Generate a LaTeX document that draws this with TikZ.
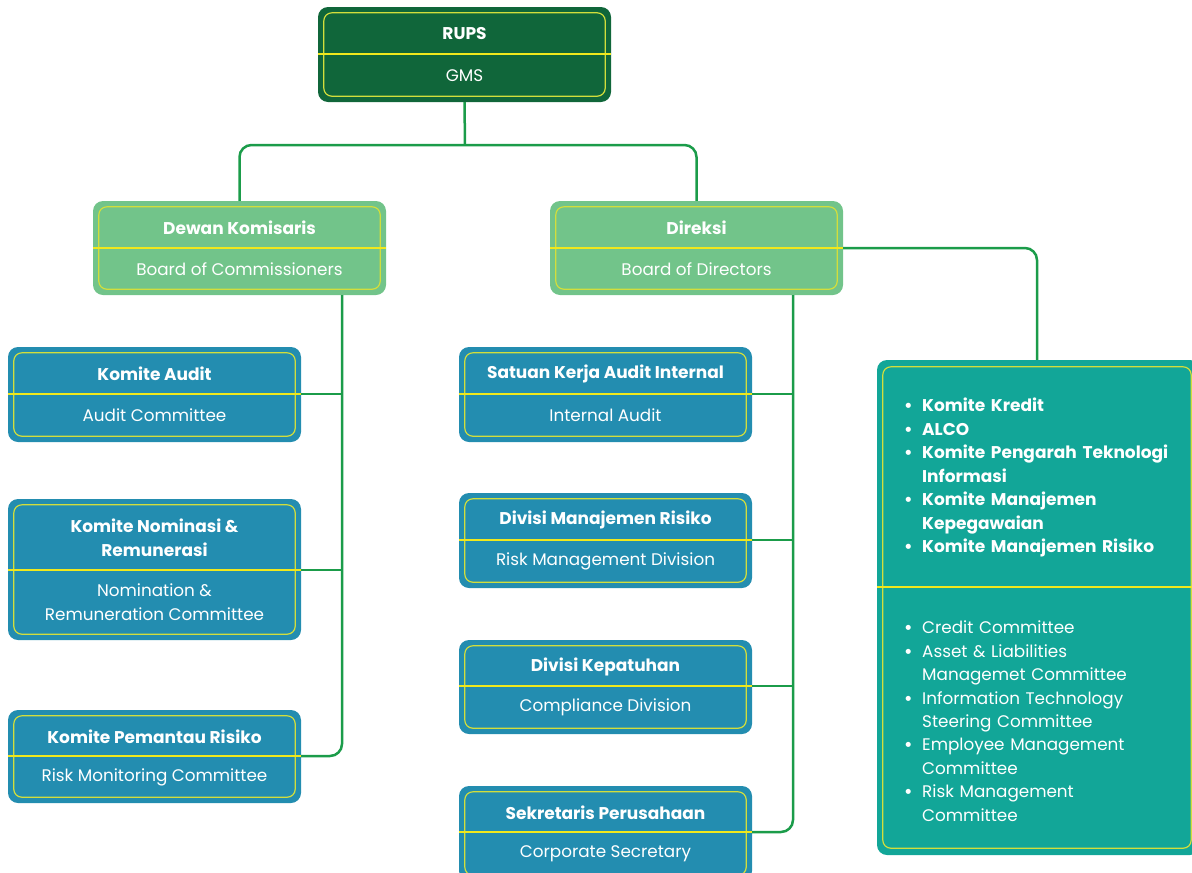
\documentclass[tikz,border=0pt]{standalone}
\usepackage{fontspec}
\setmainfont{Poppins}
\definecolor{dkg}{HTML}{10663A}
\definecolor{lgr}{HTML}{72C48A}
\definecolor{blu}{HTML}{238DB0}
\definecolor{tea}{HTML}{12A698}
\definecolor{lineg}{HTML}{1B9C4A}
\definecolor{divy}{HTML}{F0E81C}
\definecolor{bord}{HTML}{D2DE3C}
\tikzset{
  outerbox/.style={rectangle, rounded corners=10pt, minimum width=293pt, inner sep=0pt},
  innerline/.style={draw=bord, line width=1.2pt, rounded corners=8pt},
  divline/.style={draw=divy, line width=1.5pt},
  toptxt/.style={text=white, font=\bfseries\fontsize{17}{24}\selectfont, align=center, inner sep=0pt},
  bottxt/.style={text=white, font=\fontsize{16.8}{24}\selectfont, align=center, inner sep=0pt},
  conn/.style={draw=lineg, line width=2.5pt, rounded corners=12pt},
  listtxt/.style={text=white, text width=285pt, align=left, inner sep=0pt, anchor=north west}
}
\newcommand\orgbox[8]{%
  \node[outerbox, fill=#6, minimum height={#4-#3}] (#1) at ({#2+146.5},{(#3+#4)/2}) {};
  \coordinate (#1d) at (0,#5);
  \draw[innerline] ([shift={(6,6)}]#1.north west) rectangle ([shift={(-6,-6)}]#1.south east);
  \draw[divline] (#1.west |- #1d) -- (#1.east |- #1d);
  \node[toptxt] (#1t) at ({#2+146.5},{(#3+7+#5)/2}) {#7};
  \node[bottxt] (#1b) at ({#2+146.5},{(#5+#4-5)/2}) {#8};
}
\newcommand\itm[1]{\noindent\hangindent=18pt\hangafter=1\makebox[18pt][l]{\bfseries\textbullet}#1\par}
\begin{document}
\begin{tikzpicture}[x=1pt,y=-1pt]
\useasboundingbox (0,0) rectangle (1192,873);
\orgbox{rups}{318}{7}{102}{54}{dkg}{RUPS}{GMS}
\orgbox{dewan}{93}{201}{295}{248}{lgr}{Dewan Komisaris}{Board of Commissioners}
\orgbox{direksi}{550}{201}{295}{248}{lgr}{Direksi}{Board of Directors}
\orgbox{audit}{8}{347}{442}{394}{blu}{Komite Audit}{Audit Committee}
\orgbox{nominasi}{8}{499}{640}{570}{blu}{Komite Nominasi \&\\Remunerasi}{Nomination \&\\Remuneration Committee}
\orgbox{pemantau}{8}{710}{803}{756}{blu}{Komite Pemantau Risiko}{Risk Monitoring Committee}
\orgbox{ska}{459}{347}{442}{394}{blu}{Satuan Kerja Audit Internal}{Internal Audit}
\orgbox{dmr}{459}{493}{588}{540}{blu}{Divisi Manajemen Risiko}{Risk Management Division}
\orgbox{dk}{459}{640}{734}{686}{blu}{Divisi Kepatuhan}{Compliance Division}
\orgbox{sp}{459}{786}{881}{832}{blu}{Sekretaris Perusahaan}{Corporate Secretary}
% committee box
\node[rectangle, rounded corners=10pt, fill=tea, minimum width=323pt, minimum height=495pt, inner sep=0pt] (kom) at (1038.5,607.5) {};
\coordinate (komd) at (0,587);
\draw[innerline] ([shift={(6,7)}]kom.north west) rectangle ([shift={(-9,-7)}]kom.south east);
\draw[divline] (kom.west |- komd) -- (kom.east |- komd);
\node[listtxt, font=\bfseries\fontsize{17}{23.5}\selectfont] (koml1) at (904,398) {%
\itm{Komite Kredit}
\itm{ALCO}
\itm{Komite Pengarah Teknologi\newline Informasi}
\itm{Komite Manajemen\newline Kepegawaian}
\itm{Komite Manajemen Risiko}};
\node[listtxt, font=\fontsize{16.8}{23.4}\selectfont] (koml2) at (904,621) {%
\itm{Credit Committee}
\itm{Asset \& Liabilities\newline Managemet Committee}
\itm{Information Technology\newline Steering Committee}
\itm{Employee Management\newline Committee}
\itm{Risk Management\newline Committee}};
% connectors
\coordinate (j1) at (465,145);
\draw[conn] (rups.south) -- (j1);
\draw[conn] (dewan.north) |- (j1) -| (direksi.north);
\coordinate (lv) at (342,295);
\draw[conn] (lv) |- (pemantau.east |- pemantaud);
\draw[conn] (audit.east |- auditd) -- (lv |- auditd);
\draw[conn] (nominasi.east |- nominasid) -- (lv |- nominasid);
\coordinate (mv) at (793,295);
\draw[conn] (mv) |- (sp.east |- spd);
\draw[conn] (ska.east |- skad) -- (mv |- skad);
\draw[conn] (dmr.east |- dmrd) -- (mv |- dmrd);
\draw[conn] (dk.east |- dkd) -- (mv |- dkd);
\coordinate (rv) at (1037,0);
\draw[conn] (direksi.east |- direksid) -| (rv |- kom.north);
\end{tikzpicture}
\end{document}
